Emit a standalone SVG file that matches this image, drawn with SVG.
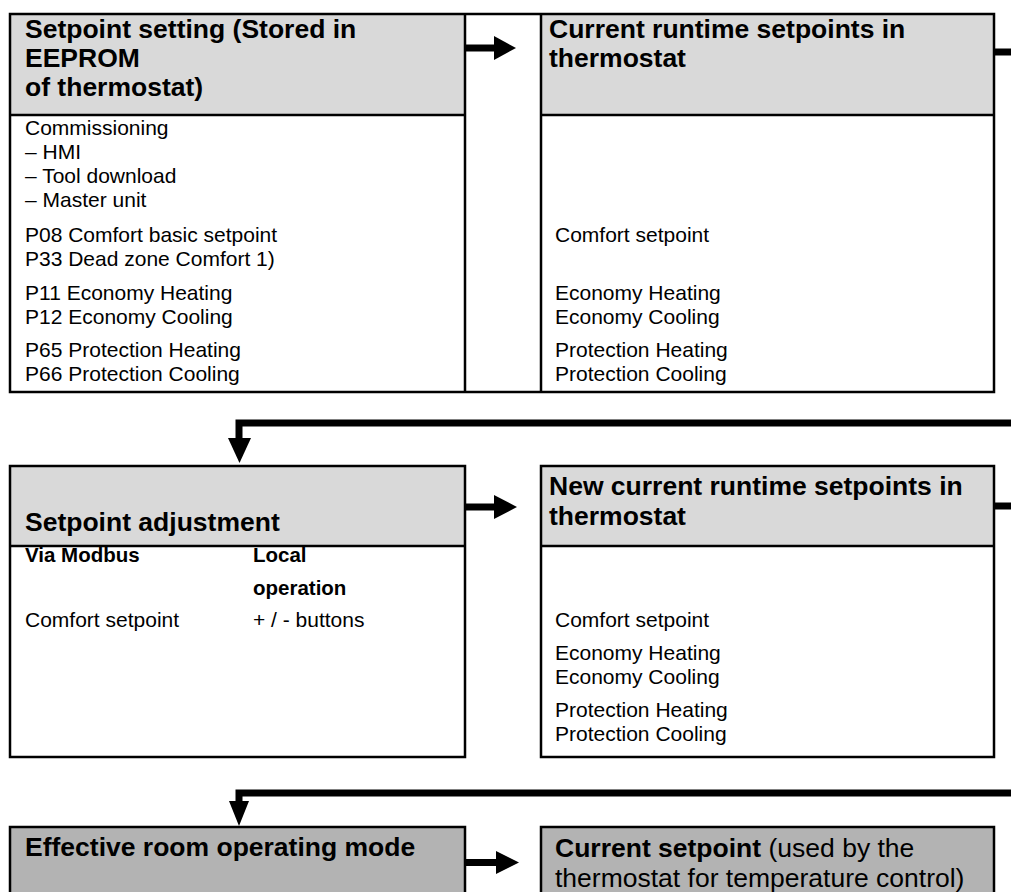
<svg xmlns="http://www.w3.org/2000/svg" width="1011" height="892" viewBox="0 0 1011 892">
<style>
 .hdr{fill:#d9d9d9;stroke:none}
 .dark{fill:#b3b3b3;stroke:#000;stroke-width:2.5}
 .frame{fill:none;stroke:#000;stroke-width:2.5}
 .rule{stroke:#000;stroke-width:2.5}
 .h{font-family:"Liberation Sans",Arial,sans-serif;font-weight:bold;font-size:26.5px;fill:#000}
 .r{font-family:"Liberation Sans",Arial,sans-serif;font-size:26.5px;fill:#000}
 .b{font-family:"Liberation Sans",Arial,sans-serif;font-size:21px;fill:#000}
 .bb{font-family:"Liberation Sans",Arial,sans-serif;font-weight:bold;font-size:20.5px;fill:#000}
 .conn{fill:none;stroke:#000;stroke-width:7;stroke-linejoin:miter}
 .head{fill:#000}
</style>
<rect width="1011" height="892" fill="#fff"/>

<g id="node-setpoint-setting">
 <rect class="hdr" x="10" y="14" width="455" height="101"/>
 <text class="h" x="25" y="38">Setpoint setting (Stored in</text>
 <text class="h" x="25" y="67">EEPROM</text>
 <text class="h" x="25" y="96">of thermostat)</text>
 <text class="b" x="25" y="134.5">Commissioning</text>
 <text class="b" x="25" y="158.5">– HMI</text>
 <text class="b" x="25" y="182.5">– Tool download</text>
 <text class="b" x="25" y="206.5">– Master unit</text>
 <text class="b" x="25" y="242">P08 Comfort basic setpoint</text>
 <text class="b" x="25" y="266">P33 Dead zone Comfort 1)</text>
 <text class="b" x="25" y="299.5">P11 Economy Heating</text>
 <text class="b" x="25" y="323.5">P12 Economy Cooling</text>
 <text class="b" x="25" y="356.5">P65 Protection Heating</text>
 <text class="b" x="25" y="380.5">P66 Protection Cooling</text>
</g>

<g id="node-current-runtime">
 <rect class="hdr" x="541" y="14" width="453" height="101"/>
 <text class="h" x="549" y="38">Current runtime setpoints in</text>
 <text class="h" x="549" y="67">thermostat</text>
 <text class="b" x="555" y="242">Comfort setpoint</text>
 <text class="b" x="555" y="299.5">Economy Heating</text>
 <text class="b" x="555" y="323.5">Economy Cooling</text>
 <text class="b" x="555" y="356.5">Protection Heating</text>
 <text class="b" x="555" y="380.5">Protection Cooling</text>
</g>

<g id="top-table-frame">
 <rect class="frame" x="10" y="14" width="984" height="378"/>
 <line class="rule" x1="465" y1="14" x2="465" y2="392"/>
 <line class="rule" x1="541" y1="14" x2="541" y2="392"/>
 <line class="rule" x1="10" y1="115" x2="465" y2="115"/>
 <line class="rule" x1="541" y1="115" x2="994" y2="115"/>
</g>

<g id="node-setpoint-adjustment">
 <rect class="hdr" x="10" y="466" width="455" height="80"/>
 <rect class="frame" x="10" y="466" width="455" height="291"/>
 <line class="rule" x1="10" y1="546" x2="465" y2="546"/>
 <text class="h" x="25" y="531">Setpoint adjustment</text>
 <text class="bb" x="25" y="562">Via Modbus</text>
 <text class="bb" x="253" y="562">Local</text>
 <text class="bb" x="253" y="595">operation</text>
 <text class="b" x="25" y="627">Comfort setpoint</text>
 <text class="b" x="253" y="627">+ / - buttons</text>
</g>

<g id="node-new-runtime">
 <rect class="hdr" x="541" y="466" width="453" height="80"/>
 <rect class="frame" x="541" y="466" width="453" height="291"/>
 <line class="rule" x1="541" y1="546" x2="994" y2="546"/>
 <text class="h" x="549" y="495">New current runtime setpoints in</text>
 <text class="h" x="549" y="525">thermostat</text>
 <text class="b" x="555" y="627">Comfort setpoint</text>
 <text class="b" x="555" y="660">Economy Heating</text>
 <text class="b" x="555" y="684">Economy Cooling</text>
 <text class="b" x="555" y="717">Protection Heating</text>
 <text class="b" x="555" y="741">Protection Cooling</text>
</g>

<g id="node-effective-mode">
 <rect class="dark" x="10" y="827" width="455" height="80"/>
 <text class="h" x="25" y="856">Effective room operating mode</text>
</g>

<g id="node-current-setpoint">
 <rect class="dark" x="541" y="827" width="453" height="80"/>
 <text class="r" x="555" y="857"><tspan font-weight="bold">Current setpoint</tspan> (used by the</text>
 <text class="r" x="555" y="887">thermostat for temperature control)</text>
</g>

<g id="connectors">
 <line class="conn" x1="465" y1="48" x2="497" y2="48"/>
 <polygon class="head" points="494,36 516,48 494,60"/>
 <line class="conn" x1="994" y1="52" x2="1011" y2="52"/>
 <path class="conn" d="M1011,423 H239 V441"/>
 <polygon class="head" points="228,438 251,438 239.5,463"/>
 <line class="conn" x1="465" y1="507" x2="497" y2="507"/>
 <polygon class="head" points="494,495 517,507 494,519"/>
 <line class="conn" x1="994" y1="506" x2="1011" y2="506"/>
 <path class="conn" d="M1011,793 H239 V804"/>
 <polygon class="head" points="229,801 249,801 239,826"/>
 <line class="conn" x1="465" y1="862.5" x2="498" y2="862.5"/>
 <polygon class="head" points="496,851 519,862.5 496,874"/>
</g>
</svg>
